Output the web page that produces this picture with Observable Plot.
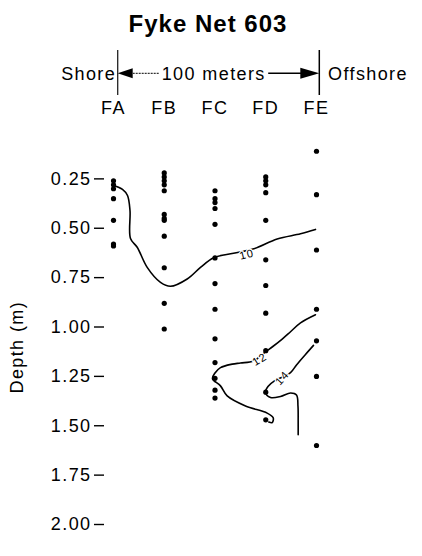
<!DOCTYPE html>
<html><head><meta charset="utf-8">
<script src="https://cdn.jsdelivr.net/npm/d3@7"></script>
<script src="https://cdn.jsdelivr.net/npm/@observablehq/plot@0.6"></script>
<style>
html,body{margin:0;padding:0;background:#fff;}
body{width:422px;height:556px;overflow:hidden;font-family:"Liberation Sans",Arial,Helvetica,sans-serif;}
#title{position:relative;height:40px;}
#title span{position:absolute;left:0;right:6px;text-align:center;top:11.7px;font-size:24px;line-height:24px;font-weight:bold;letter-spacing:1px;color:#000;}
g[aria-label="contour-label"]{opacity:0.999;}
g[aria-label="contour-label"] text{letter-spacing:0.6px;}
</style></head><body>
<div id="title"><span id="t"></span></div>
<div id="chart"></div>
<script>
// ---- data ----
const title = "Fyke Net 603";
const columns = ["FA", "FB", "FC", "FD", "FE"];
const depthTicks = [0.25, 0.5, 0.75, 1.0, 1.25, 1.5, 1.75, 2.0];
const yLabel = "Depth (m)";
const shoreLabel = "Shore";
const offshoreLabel = "Offshore";
const spanLabel = "100 meters";

const depthsFA = [0.26, 0.28, 0.30, 0.35, 0.46, 0.58, 0.59];
const depthsFB = [0.22, 0.24, 0.26, 0.28, 0.31, 0.43, 0.45, 0.46, 0.54, 0.70, 0.88, 1.01];
const depthsFC = [0.31, 0.35, 0.37, 0.40, 0.48, 0.65, 0.78, 0.91, 1.06, 1.18, 1.26, 1.32, 1.36];
const depthsFD = [0.24, 0.26, 0.28, 0.32, 0.46, 0.66, 0.79, 0.93, 1.12, 1.33, 1.47];
const depthsFE = [0.11, 0.33, 0.61, 0.91, 1.07, 1.25, 1.60];

// contour lines: [column position, depth]
const contour10 = [[0,0.283],[0.177,0.303],[0.276,0.334],[0.325,0.410],[0.335,0.552],[0.467,0.596],[0.664,0.698],[0.926,0.774],[1.123,0.794],[1.452,0.757],[1.714,0.698],[1.976,0.649],[2.365,0.627],[2.764,0.604],[3.225,0.554],[3.685,0.528],[3.98,0.506]];
const contour12 = [[3.98,0.938],[3.685,0.979],[3.488,1.024],[3.324,1.061],[3.133,1.100],[2.995,1.126],[2.759,1.172],[2.502,1.182],[2.339,1.188],[2.108,1.206],[2.0,1.233],[1.951,1.262],[2.108,1.298],[2.240,1.349],[2.601,1.400],[3.028,1.436],[3.147,1.460],[3.127,1.484],[3.060,1.481]];
const contour14 = [[3.941,1.093],[3.783,1.139],[3.606,1.192],[3.488,1.231],[3.172,1.273],[3.044,1.301],[2.995,1.332],[3.094,1.357],[3.291,1.352],[3.488,1.334],[3.606,1.344],[3.635,1.400],[3.639,1.476],[3.639,1.545]];
const contourLabelText = ["10", "12", "14"];
const contourLabelCol = [2.63, 2.883, 3.33];
const contourLabelDepth = [0.633, 1.164, 1.258];
const contourLabelAngle = [-14, -32, -48];

// ---- build ----
document.getElementById("t").textContent = title;
const allDepths = [depthsFA, depthsFB, depthsFC, depthsFD, depthsFE];
const samples = allDepths.flatMap((ds, i) => ds.map(d => ({col: i, depth: d})));
const contourLabels = contourLabelText.map((t, i) => ({text: t, col: contourLabelCol[i], depth: contourLabelDepth[i], angle: contourLabelAngle[i]}));
const toPts = arr => arr.map(([c, d]) => ({col: c, depth: d}));

const font = '"Liberation Sans", Arial, Helvetica, sans-serif';

function annotations(index, scales, values, dims) {
  const x = scales.x, y = scales.y;
  const g = d3.create("svg:g").attr("font-family", font).attr("font-size", 18).attr("fill", "black");
  const xL = x(0) + 4.7, xR = x(4) + 3.3;
  const yTop = 10, yBot = 55, yA = 33.3, yT = 40;
  g.append("line").attr("x1", xL).attr("x2", xL).attr("y1", yTop).attr("y2", yBot).attr("stroke", "#222").attr("stroke-width", 1.3);
  g.append("line").attr("x1", xR).attr("x2", xR).attr("y1", yTop).attr("y2", yBot).attr("stroke", "#000").attr("stroke-width", 1.5);
  g.append("path").attr("d", `M${xL},${yA}L${xL + 15},${yA - 5}L${xL + 15},${yA + 5}Z`).attr("fill", "black");
  g.append("line").attr("x1", xL + 15).attr("x2", xL + 42).attr("y1", yA).attr("y2", yA).attr("stroke", "#333").attr("stroke-width", 1.2).attr("stroke-dasharray", "2,1");
  g.append("line").attr("x1", xL + 150.5).attr("x2", xR - 18).attr("y1", yA).attr("y2", yA).attr("stroke", "#000").attr("stroke-width", 1.5);
  g.append("path").attr("d", `M${xR},${yA}L${xR - 19},${yA - 5.5}L${xR - 19},${yA + 5.5}Z`).attr("fill", "black");
  g.append("text").attr("x", xL - 1.5).attr("y", yT).attr("text-anchor", "end").text(shoreLabel);
  g.append("text").attr("x", xL + 44).attr("y", yT).attr("text-anchor", "start").text(spanLabel);
  g.append("text").attr("x", xR + 8.7).attr("y", yT).attr("text-anchor", "start").text(offshoreLabel);
  // y-axis title, centred between the 1.00 and 1.25 ticks
  const yc = (y(1.0) + y(1.25)) / 2 - 4;
  g.append("text").attr("transform", `translate(17,${yc}) rotate(-90)`).attr("text-anchor", "middle").attr("dy", "0.35em").text(yLabel);
  return g.node();
}

const chart = Plot.plot({
  width: 422,
  height: 516,
  marginTop: 89,
  marginBottom: 32,
  marginLeft: 104,
  marginRight: 106,
  x: {domain: [0, 4], range: [113, 316], axis: null},
  y: {domain: [0, 2], reverse: true, axis: null},
  style: {fontFamily: font, fontSize: "18px", color: "black", background: "white", overflow: "visible", letterSpacing: "1.4px"},
  marks: [
    Plot.axisY({ticks: depthTicks, tickFormat: d3.format(".2f"), tickSize: 10, tickPadding: 3, strokeWidth: 1.4, label: null}),
    Plot.axisX({anchor: "top", ticks: [0, 1, 2, 3, 4], tickFormat: i => columns[i], tickSize: 0, tickPadding: 16, label: null}),
    Plot.line(toPts(contour10), {x: "col", y: "depth", curve: "catmull-rom", stroke: "black", strokeWidth: 1.6}),
    Plot.line(toPts(contour12), {x: "col", y: "depth", curve: "catmull-rom", stroke: "black", strokeWidth: 1.6}),
    Plot.line(toPts(contour14), {x: "col", y: "depth", curve: "catmull-rom", stroke: "black", strokeWidth: 1.6}),
    Plot.dot(samples, {x: "col", y: "depth", r: 2.6, fill: "black", stroke: "none"}),
    Plot.text(contourLabels, {x: "col", y: "depth", text: "text", rotate: "angle", fontSize: 11, fill: "black", stroke: "white", strokeWidth: 2.5, paintOrder: "stroke", ariaLabel: "contour-label"}),
    annotations
  ]
});
document.getElementById("chart").appendChild(chart);
</script>
</body></html>
